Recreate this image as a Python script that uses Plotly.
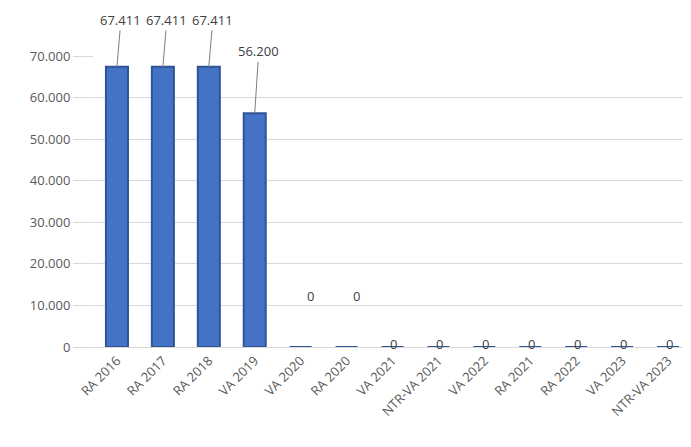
import plotly.graph_objects as go

categories = ["RA 2016", "RA 2017", "RA 2018", "VA 2019", "VA 2020", "RA 2020",
              "VA 2021", "NTR-VA 2021", "VA 2022", "RA 2021", "RA 2022", "VA 2023",
              "NTR-VA 2023"]
values = [67411, 67411, 67411, 56200, 0, 0, 0, 0, 0, 0, 0, 0, 0]
y_ticks = [0, 10000, 20000, 30000, 40000, 50000, 60000, 70000]

# label placement (style): pixel offsets relative to the bar top
label_offsets = [-47, -47, -47, -62, 40, 40, -8, -8, -8, -8, -8, -8, -8]
label_xshift = [4, 4, 4, 4, 10, 10, 1, 1, 1, 1, 1, 1, 1]

fig = go.Figure()
fig.add_trace(go.Bar(
    x=categories, y=values,
    marker=dict(color="#4472C4", line=dict(color="#2F5597", width=2)),
    width=0.48,
))

def fmt(v):
    return f"{v:,}".replace(",", ".")

for c, v, off, xs in zip(categories, values, label_offsets, label_xshift):
    if v > 0:
        fig.add_annotation(x=c, y=v, text=fmt(v), showarrow=True, arrowhead=0,
                           arrowwidth=1, arrowcolor="#7F7F7F", ax=xs, ay=off,
                           font=dict(size=13, color="#404040"))
    else:
        fig.add_annotation(x=c, y=v, text=fmt(v), showarrow=False,
                           xshift=xs, yshift=off, yanchor="bottom",
                           font=dict(size=13, color="#404040"))

fig.update_layout(
    width=691, height=447,
    margin=dict(l=86, r=8, t=48, b=108),
    paper_bgcolor="white", plot_bgcolor="white",
    separators=",.",
    showlegend=False,
    font=dict(family="Open Sans, Noto Sans, sans-serif", color="#595959"),
    bargap=0.5,
)
fig.update_xaxes(tickangle=-45, tickfont=dict(size=13, color="#595959"),
                 showline=True, linecolor="#D9D9D9", showgrid=False)
fig.update_yaxes(range=[0, 70000], tickvals=y_ticks,
                 ticktext=[fmt(t) for t in y_ticks],
                 tickfont=dict(size=13, color="#595959"),
                 showgrid=True, gridcolor="#D9D9D9", zeroline=False,
                 ticks="outside", ticklen=20, tickcolor="#D9D9D9")

fig.write_html("out.html")
